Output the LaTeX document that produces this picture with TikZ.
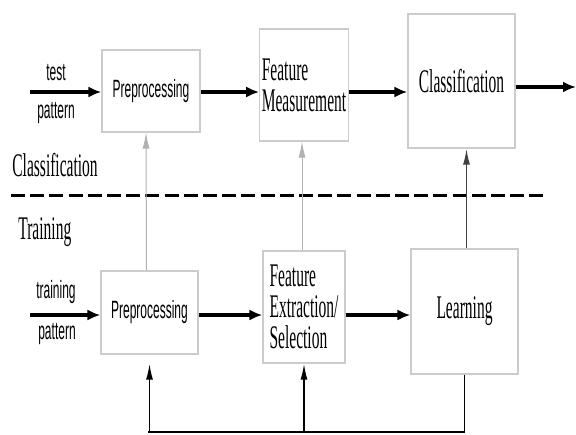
\documentclass[tikz,border=0pt]{standalone}
\usepackage{fontspec}
\setmainfont{Liberation Serif}[FakeStretch=0.47]
\newfontfamily\sansetroit{Liberation Sans}[FakeStretch=0.48]
\usepackage{tikz}
\usetikzlibrary{arrows.meta,positioning,calc}

\begin{document}
\begin{tikzpicture}[x=0.5pt,y=-0.5pt,
    bloc/.style    = {draw=black!20,line width=0.6pt,align=left,
                      font=\fontsize{16.5}{15.5}\selectfont,inner sep=1pt},
    blocsf/.style  = {bloc,font=\sansetroit\fontsize{12.5}{14}\selectfont},
    fleche/.style  = {line width=1.6pt,-{Latex[length=6.5pt,width=5.5pt]}},
    retour/.style  = {line width=0.8pt,-{Latex[length=8pt,width=3.5pt]}},
    etiquette/.style = {font=\sansetroit\fontsize{12.5}{14}\selectfont},
    phase/.style   = {font=\fontsize{16.5}{16}\selectfont,anchor=west,inner sep=0pt},
  ]
  \useasboundingbox (0,0) rectangle (576,434);

  % Chaîne de classification
  \node[blocsf,minimum width=49pt,minimum height=41pt] (pretest) at (151,91) {Preprocessing};
  \node[bloc,minimum width=41pt,minimum height=56pt] (mesure) at (304,85)
       {Feature\\Measurement};
  \node[bloc,minimum width=53.5pt,minimum height=67pt] (classif) at (461.5,81) {Classification};
  \coordinate (entreetest) at (30,92);
  \coordinate (sortie) at (576,87);
  \node[etiquette] (test) at (56,73) {test};
  \node[etiquette] (pattest) at (56,113) {pattern};

  \draw[fleche] (entreetest) -- (entreetest -| pretest.west);
  \draw[fleche] (pretest.east |- entreetest) -- (mesure.west |- entreetest);
  \draw[fleche] (mesure.east |- entreetest) -- (classif.west |- entreetest);
  \draw[fleche] (classif.east |- sortie) -- (sortie);

  % Séparation des deux phases
  \node[phase] (phclass) at (12,165) {Classification};
  \node[phase] (phtrain) at (18,232) {Training};
  \coordinate (tiretg) at (11,195);
  \coordinate (tiretd) at (548,195);
  \draw[line width=1.5pt,dash pattern=on 7pt off 2.6pt] (tiretg) -- (tiretd);

  % Chaîne d'apprentissage
  \node[blocsf,minimum width=48.5pt,minimum height=41.5pt] (preappr) at (149.5,312.5) {Preprocessing};
  \node[bloc,minimum width=41pt,minimum height=56pt] (extract) at (304,307)
       {Feature\\Extraction/\\Selection};
  \node[bloc,minimum width=53.5pt,minimum height=62.5pt] (appr) at (464.5,311.5) {Learning};
  \coordinate (entreeappr) at (30,315);
  \node[etiquette] (train) at (56,292) {training};
  \node[etiquette] (patappr) at (57,334) {pattern};

  \draw[fleche] (entreeappr) -- (entreeappr -| preappr.west);
  \draw[fleche] (preappr.east |- entreeappr) -- (extract.west |- entreeappr);
  \draw[fleche] (extract.east |- entreeappr) -- (appr.west |- entreeappr);

  % Liens entre les phases
  \draw[retour,line width=0.5pt,draw=black!30] ($(preappr.north)+(-3,0)$) -- ($(pretest.south)+(-5,0)$);
  \draw[retour,line width=0.5pt,draw=black!30] ($(extract.north)+(-2,0)$) -- ($(mesure.south)+(-2,0)$);
  \draw[retour,draw=black!75] ($(appr.north)+(2,0)$) -- ($(classif.south)+(5,0)$);

  % Boucle de retour
  \coordinate (bas) at (148,432);
  \draw[line width=0.8pt] (appr.south) |- (bas);
  \draw[retour] (bas) -- (bas -| preappr.south) -- ($(preappr.south)+(0,9)$);
  \draw[retour] (extract.south |- bas) -- (extract.south);

\end{tikzpicture}
\end{document}
